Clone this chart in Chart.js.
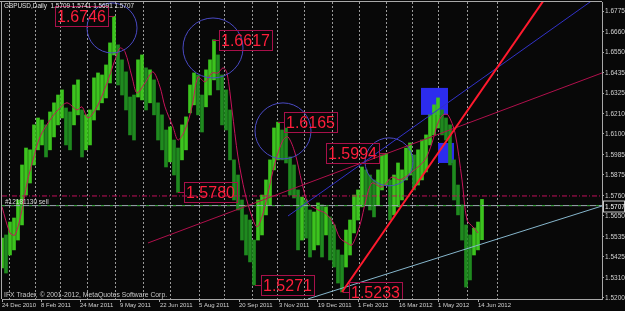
<!DOCTYPE html>
<html>
<head>
<meta charset="utf-8">
<script src="https://cdn.jsdelivr.net/npm/chart.js@4.4.1/dist/chart.umd.min.js"></script>
<style>
  html, body { margin: 0; padding: 0; background: #080808; }
  canvas { display: block; }
</style>
</head>
<body>
<canvas id="chart" width="625" height="311"></canvas>
<script>
// GBPUSD daily, x = bar number counted from 24 Dec 2010 (sunday bars included)

const symbolTitle = 'GBPUSD,Daily';
const lastOHLC = ['1.5709', '1.5741', '1.5691', '1.5707'];
const bidPrice = 1.5707;
const orderPrice = 1.5760;
const orderLabel = '#12181130 sell';
const copyright = 'IFX Trader, \u00a9 2001-2012, MetaQuotes Software Corp.';

const dateTickBars = [0, 39, 78, 118, 158, 197, 237, 277, 316, 356, 397, 436, 476];
const dateTickLabels = ['24 Dec 2010', '8 Feb 2011', '24 Mar 2011', '9 May 2011', '22 Jun 2011', '5 Aug 2011',
   '20 Sep 2011', '3 Nov 2011', '19 Dec 2011', '1 Feb 2012', '16 Mar 2012', '1 May 2012', '14 Jun 2012'];
const monthStartBars = [7, 33, 58, 85, 113, 141, 168, 197, 222, 250, 275, 302, 330, 357, 384, 410, 436, 465, 495];

const priceTicks = [1.6775, 1.6660, 1.6550, 1.6435, 1.6325, 1.6210, 1.6100, 1.5985, 1.5875, 1.5760,
   1.5650, 1.5535, 1.5425, 1.5310, 1.5200];

// price bars, one sample every 4 bars
const highs = [
   1.5529, 1.5546, 1.5617, 1.5639, 1.5738, 1.5930, 1.6023, 1.6013, 1.6150, 1.6188,
   1.6177, 1.6150, 1.6221, 1.6271, 1.6314, 1.6342, 1.6243, 1.6221, 1.6369, 1.6397,
   1.6232, 1.6205, 1.6232, 1.6408, 1.6435, 1.6424, 1.6479, 1.6600, 1.6746, 1.6589,
   1.6507, 1.6441, 1.6303, 1.6314, 1.6507, 1.6534, 1.6463, 1.6452, 1.6397, 1.6271,
   1.6205, 1.6122, 1.6139, 1.6067, 1.6023, 1.6150, 1.6194, 1.6369, 1.6435, 1.6424,
   1.6314, 1.6452, 1.6507, 1.6617, 1.6534, 1.6424, 1.6342, 1.6232, 1.5958, 1.5875,
   1.5738, 1.5656, 1.5628, 1.5518, 1.5738, 1.5765, 1.5848, 1.5958, 1.6133, 1.6165,
   1.6122, 1.6133, 1.5974, 1.5930, 1.5793, 1.5754, 1.5738, 1.5683, 1.5672, 1.5722,
   1.5711, 1.5700, 1.5645, 1.5601, 1.5464, 1.5436, 1.5573, 1.5628, 1.5765, 1.5793,
   1.5919, 1.5903, 1.5875, 1.5848, 1.5903, 1.5985, 1.5994, 1.5848, 1.5875, 1.5941,
   1.5903, 1.6023, 1.6051, 1.5985, 1.6013, 1.6067, 1.6095, 1.6205, 1.6260, 1.6298,
   1.6232, 1.6188, 1.6150, 1.5958, 1.5820, 1.5711, 1.5601, 1.5546, 1.5584, 1.5617,
   1.5741
];
const lows = [
   1.5365, 1.5337, 1.5436, 1.5464, 1.5518, 1.5601, 1.5765, 1.5831, 1.5930, 1.6013,
   1.6040, 1.5974, 1.6013, 1.6084, 1.6150, 1.6188, 1.6040, 1.6013, 1.6150, 1.6205,
   1.5974, 1.6013, 1.6040, 1.6177, 1.6232, 1.6271, 1.6298, 1.6380, 1.6534, 1.6369,
   1.6314, 1.6232, 1.6095, 1.6067, 1.6303, 1.6287, 1.6232, 1.6271, 1.6205, 1.6067,
   1.6013, 1.5919, 1.5947, 1.5875, 1.5780, 1.5958, 1.6013, 1.6216, 1.6260, 1.6205,
   1.6111, 1.6249, 1.6314, 1.6397, 1.6342, 1.6150, 1.6122, 1.5958, 1.5738, 1.5683,
   1.5518, 1.5436, 1.5398, 1.5271, 1.5518, 1.5546, 1.5656, 1.5711, 1.5903, 1.5958,
   1.5958, 1.5941, 1.5765, 1.5749, 1.5464, 1.5518, 1.5529, 1.5425, 1.5464, 1.5491,
   1.5425, 1.5546, 1.5409, 1.5370, 1.5282, 1.5233, 1.5370, 1.5436, 1.5557, 1.5628,
   1.5700, 1.5711, 1.5683, 1.5645, 1.5711, 1.5793, 1.5820, 1.5628, 1.5656, 1.5700,
   1.5738, 1.5848, 1.5875, 1.5793, 1.5820, 1.5848, 1.5892, 1.6040, 1.6095, 1.6133,
   1.6095, 1.6067, 1.5930, 1.5738, 1.5656, 1.5518, 1.5260, 1.5299, 1.5436, 1.5464,
   1.5520
];
const sampleBars = highs.map((_, i) => i * 4);

// moving average (crimson)
const maBars = [0, 8, 13, 20, 25, 31, 38, 48, 56, 65, 75, 80, 86, 95, 105, 113, 118, 123, 130, 135,
   143, 151, 158, 163, 171, 176, 183, 190, 196, 203, 210, 216, 221, 225, 230, 236, 243, 250, 255, 260,
   266, 273, 281, 286, 293, 300, 306, 316, 323, 331, 338, 345, 350, 358, 364, 370, 380, 390, 398, 410,
   423, 430, 436, 441, 446, 453, 460, 465, 471, 476];
const maValues = [1.5700, 1.5557, 1.5546, 1.5683, 1.5831, 1.5958, 1.6084, 1.6177, 1.6232, 1.6271,
   1.6232, 1.6249, 1.6188, 1.6249, 1.6380, 1.6507, 1.6572, 1.6551, 1.6413, 1.6325,
   1.6380, 1.6441, 1.6358, 1.6249, 1.6139, 1.6067, 1.6122, 1.6249, 1.6413, 1.6386,
   1.6435, 1.6435, 1.6463, 1.6435, 1.6232, 1.5974, 1.5776, 1.5645, 1.5590, 1.5645,
   1.5776, 1.5941, 1.6067, 1.6084, 1.5996, 1.5831, 1.5722, 1.5683, 1.5667, 1.5617,
   1.5529, 1.5502, 1.5491, 1.5601, 1.5738, 1.5831, 1.5809, 1.5864, 1.5848, 1.5892,
   1.5958, 1.6051, 1.6161, 1.6205, 1.6205, 1.6106, 1.5848, 1.5628, 1.5590, 1.5557];

// trend lines [bar, price]
const redLine = [[340, 1.5233], [542, 1.6836]];
const blueLine = [[286, 1.5650], [591, 1.6836]];
const crimsonLine = [[146, 1.5502], [600, 1.6435]];
const cyanLine = [[306, 1.5195], [600, 1.5705]];

// circles around the swing points
const circleBars = [110, 211, 281, 387];
const circlePrices = [1.6682, 1.6572, 1.6117, 1.5947];

// filled boxes [from, to]
const rectBars = [[419, 446], [436, 452]];
const rectPrices = [[1.6353, 1.6205], [1.6051, 1.5941]];

// swing price labels
const swingBars = [112, 211, 276, 383, 176, 253, 341];
const swingPrices = [1.6746, 1.6617, 1.6165, 1.5994, 1.5780, 1.5271, 1.5233];
const swingSides = ['left', 'right', 'right', 'left', 'right', 'right', 'right'];


const FONT = "'Liberation Sans', Arial, sans-serif";
const AXIS = '#a8a8a8';

const upBars = [], downBars = [];
sampleBars.forEach((b, i) => {
   const mid = (highs[i] + lows[i]) / 2;
   const prev = i ? (highs[i - 1] + lows[i - 1]) / 2 : mid;
   (mid >= prev ? upBars : downBars).push({ x: b, y: [lows[i], highs[i]] });
});

const toXY = arr => arr.map(p => ({ x: p[0], y: p[1] }));
const flat = v => [{ x: 0, y: v }, { x: 600, y: v }];

const overlay = {
   id: 'overlay',
   beforeDatasetsDraw(chart) {
      const { ctx, chartArea: a, scales: { x, y } } = chart;
      ctx.save();
      ctx.strokeStyle = '#9a9a9a';
      ctx.lineWidth = 1;
      ctx.setLineDash([2, 2]);
      monthStartBars.forEach(b => {
         const px = Math.round(x.getPixelForValue(b)) + 0.5;
         ctx.beginPath();
         ctx.moveTo(px, a.top);
         ctx.lineTo(px, a.bottom);
         ctx.stroke();
      });
      ctx.setLineDash([]);
      ctx.fillStyle = '#2c2cee';
      rectBars.forEach((r, i) => {
         const x0 = x.getPixelForValue(r[0]), x1 = x.getPixelForValue(r[1]);
         const y0 = y.getPixelForValue(rectPrices[i][0]), y1 = y.getPixelForValue(rectPrices[i][1]);
         ctx.fillRect(x0, y0, x1 - x0, y1 - y0);
      });
      ctx.restore();
   },
   afterDatasetsDraw(chart) {
      const { ctx, chartArea: a, scales: { x, y } } = chart;
      ctx.save();
      ctx.beginPath();
      ctx.rect(a.left, a.top, a.right - a.left, a.bottom - a.top);
      ctx.clip();
      ctx.font = '16px ' + FONT;
      ctx.textBaseline = 'middle';
      swingPrices.forEach((p, i) => {
         const px = x.getPixelForValue(swingBars[i]);
         const py = Math.round(y.getPixelForValue(p)) + 0.5;
         const txt = p.toFixed(4);
         const w = Math.round(ctx.measureText(txt).width) + 4;
         const bx = swingSides[i] === 'left' ? px - 6 - w : px + 6;
         ctx.strokeStyle = '#a8104a';
         ctx.lineWidth = 1;
         ctx.beginPath();
         ctx.moveTo(px, py);
         ctx.lineTo(swingSides[i] === 'left' ? bx + w : bx, py);
         ctx.stroke();
         ctx.strokeRect(Math.round(bx) + 0.5, py - 10, w, 20);
         ctx.fillStyle = '#ff1e3c';
         ctx.fillText(txt, bx + 2, py + 1);
      });
      // order label
      ctx.font = '6.5px ' + FONT;
      ctx.fillStyle = '#d8d8d8';
      ctx.fillText(orderLabel, a.left + 3, y.getPixelForValue(orderPrice) + 6);
      ctx.restore();
   },
   afterDraw(chart) {
      const { ctx, chartArea: a, scales: { y } } = chart;
      ctx.save();
      ctx.strokeStyle = AXIS;
      ctx.lineWidth = 1;
      ctx.beginPath();
      ctx.moveTo(0, 1.5);
      ctx.lineTo(a.right, 1.5);
      ctx.moveTo(1.5, 1);
      ctx.lineTo(1.5, a.bottom);
      ctx.stroke();

      ctx.textBaseline = 'middle';
      ctx.font = '6.4px ' + FONT;
      ctx.fillStyle = '#e0e0e0';
      ctx.fillText(symbolTitle + '  ' + lastOHLC.join(' '), 4, 6);
      ctx.font = '6.8px ' + FONT;
      ctx.fillStyle = '#c8c8c8';
      ctx.fillText(copyright, 4, 295);

      // bid price box on the axis
      const by = Math.round(y.getPixelForValue(bidPrice)) + 0.5;
      ctx.fillStyle = '#080808';
      ctx.fillRect(a.right + 1, by - 6, 21, 12);
      ctx.strokeStyle = '#c8c8c8';
      ctx.strokeRect(a.right + 1.5, by - 5.5, 21, 11);
      ctx.fillStyle = '#ffffff';
      ctx.font = '6.5px ' + FONT;
      ctx.fillText(bidPrice.toFixed(4), a.right + 3, by + 0.5);
      ctx.restore();
   }
};

new Chart(document.getElementById('chart'), {
   type: 'bar',
   data: {
      datasets: [
         { type: 'line', data: toXY(redLine), borderColor: '#ff1a2e', borderWidth: 2, pointRadius: 0, order: 1 },
         { type: 'line', data: toXY(blueLine), borderColor: '#3232c8', borderWidth: 1, pointRadius: 0, order: 2 },
         { type: 'line', data: toXY(crimsonLine), borderColor: '#b0104c', borderWidth: 1, pointRadius: 0, order: 2 },
         { type: 'line', data: toXY(cyanLine), borderColor: '#86b6cc', borderWidth: 1, pointRadius: 0, order: 2 },
         {
            type: 'scatter', data: circleBars.map((b, i) => ({ x: b, y: circlePrices[i] })),
            pointRadius: [25, 30, 28, 24], borderColor: '#4a4ac4', borderWidth: 1,
            backgroundColor: 'rgba(0,0,0,0)', order: 3
         },
         { type: 'line', data: flat(orderPrice), borderColor: '#c0105a', borderWidth: 1, borderDash: [5, 2, 1, 2], pointRadius: 0, order: 4 },
         { type: 'line', data: flat(bidPrice), borderColor: '#9eacb4', borderWidth: 1, pointRadius: 0, order: 5 },
         { type: 'line', data: flat(bidPrice), borderColor: '#2a9a2a', borderWidth: 1, borderDash: [3, 6], pointRadius: 0, order: 4 },
         {
            type: 'line', data: maBars.map((b, i) => ({ x: b, y: maValues[i] })),
            borderColor: '#c8145a', borderWidth: 1, pointRadius: 0, tension: 0.3, order: 6
         },
         { data: upBars, backgroundColor: '#3cc41e', barThickness: 3, grouped: false, order: 10 },
         { data: downBars, backgroundColor: '#1f8a1f', barThickness: 3, grouped: false, order: 11 },
      ],
   },
   options: {
      responsive: false,
      animation: false,
      events: [],
      layout: { padding: { left: 2, top: 2, right: 0, bottom: 0 }, autoPadding: false },
      plugins: { legend: false, tooltip: { enabled: false } },
      scales: {
         x: {
            type: 'linear', min: 0, max: 600, offset: false,
            afterBuildTicks: s => { s.ticks = dateTickBars.map(v => ({ value: v })); },
            afterFit: s => { s.height = 12; s.paddingLeft = 0; s.paddingRight = 0; },
            ticks: {
               callback: (v, i) => dateTickLabels[i],
               align: 'start', maxRotation: 0, autoSkip: false, padding: 0,
               color: '#d0d0d0', font: { size: 6, family: FONT },
            },
            grid: { drawOnChartArea: false, tickLength: 3, color: AXIS, offset: false },
            border: { color: AXIS },
         },
         y: {
            position: 'right', min: 1.51945, max: 1.68244,
            afterBuildTicks: s => { s.ticks = priceTicks.map(v => ({ value: v })); },
            afterFit: s => { s.width = 23; s.paddingTop = 0; s.paddingBottom = 0; },
            ticks: {
               callback: v => v.toFixed(4),
               padding: 1, color: '#d0d0d0', font: { size: 6.5, family: FONT },
            },
            grid: { drawOnChartArea: false, tickLength: 2, color: AXIS },
            border: { color: AXIS },
         },
      },
   },
   plugins: [overlay],
});
</script>
</body>
</html>
